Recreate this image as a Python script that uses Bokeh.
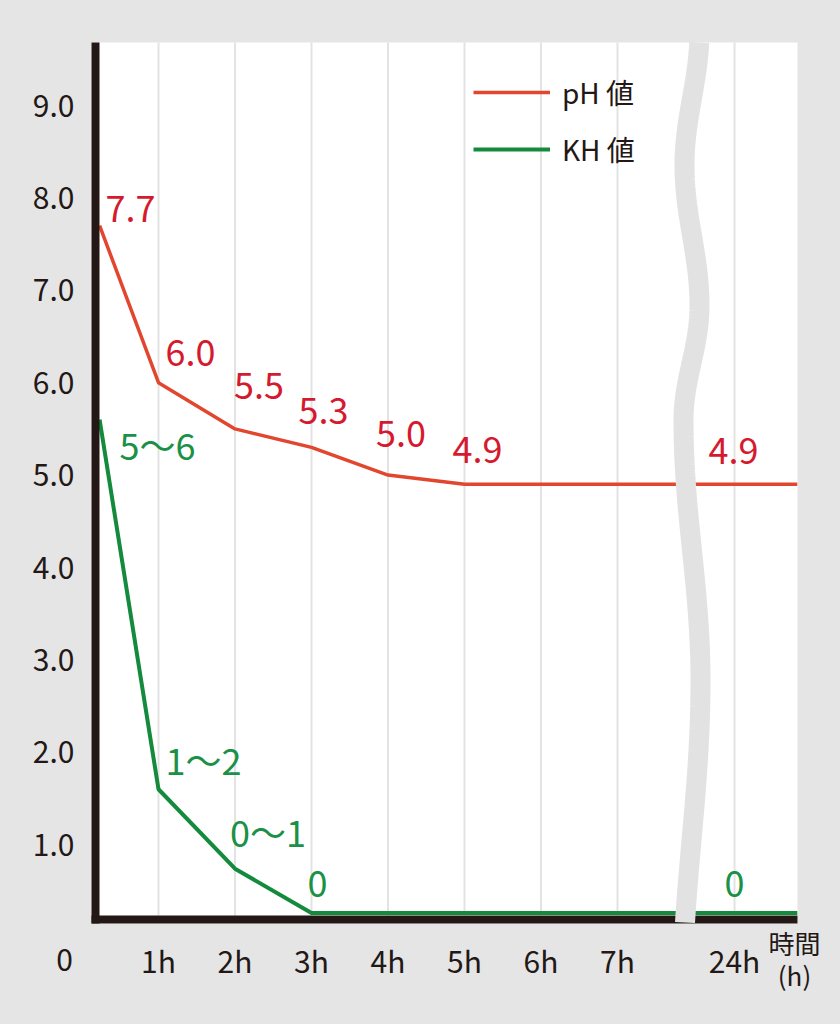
import numpy as np
from bokeh.plotting import figure
from bokeh.models import (Range1d, Legend, LegendItem, ColumnDataSource, GlobalInlineStyleSheet)
from bokeh.core.properties import value
from bokeh.embed import file_html
from bokeh.resources import INLINE

# ---------------- data ----------------
time_tick_labels = ["1h", "2h", "3h", "4h", "5h", "6h", "7h", "24h"]
time_ticks = [1, 2, 3, 4, 5, 6, 7, 8.53]            # 24h sits after the axis break
x_points = [0.23, 1, 2, 3, 4, 5, 6, 7, 8.53, 9.35]   # first point on the y-axis, last at the right edge
ph_values = [7.7, 6.0, 5.5, 5.3, 5.0, 4.9, 4.9, 4.9, 4.9, 4.9]
ph_labels = ["7.7", "6.0", "5.5", "5.3", "5.0", "4.9", "", "", "4.9", ""]
kh_values = [5.6, 1.6, 0.74, 0.26, 0.26, 0.26, 0.26, 0.26, 0.26, 0.26]
kh_labels = ["5〜6", "1〜2", "0〜1", "0", "", "", "", "", "0", ""]
y_ticks = [1, 2, 3, 4, 5, 6, 7, 8, 9]
y_tick_labels = ["1.0", "2.0", "3.0", "4.0", "5.0", "6.0", "7.0", "8.0", "9.0"]

# ---------------- styles ----------------
FONT = "Noto Sans CJK JP"
BG = "#e5e5e5"
INK = "#231815"
PH_LINE, PH_TEXT = "#e2462e", "#d51a2f"
KH_LINE, KH_TEXT = "#138a3c", "#1a9146"
ph_dx = [31, 32, 24, 12, 13, 13, 0, 0, -1, 0]
ph_dy = [-17, -30, -43, -36, -41, -34, 0, 0, -33, 0]
kh_dx = [58, 45, 33, 6, 0, 0, 0, 0, 0, 0]
kh_dy = [24, -30, -38, -29, 0, 0, 0, 0, -29, 0]

# pixel <-> data mapping of the artwork (page pixels)
W, H = 840, 1024
PX_H, PX_V = 76.5, 92.4
def tx(px):
    return 1 + (px - 158) / PX_H
def vy(py):
    return 9 - (py - 105) / PX_V

# plot-area box (white) and axis bars
AX_L, AX_R, AX_T, AX_B = 91, 797, 42, 923

p = figure(width=W, height=H, x_range=Range1d(tx(0), tx(W)), y_range=Range1d(vy(H), vy(0)),
           output_backend="svg", toolbar_location=None, min_border=0,
           x_axis_location=None, y_axis_location=None)
p.stylesheets = [GlobalInlineStyleSheet(css="html,body{background:%s;margin:0;}" % BG)]
p.outline_line_color = None
p.border_fill_color = BG
p.background_fill_color = BG
p.xgrid.visible = False
p.ygrid.visible = False

x0, x1, y0, y1 = tx(AX_L), tx(AX_R), vy(AX_B), vy(AX_T)
p.quad(left=x0, right=x1, bottom=y0, top=y1, fill_color="white", line_color=None)

# vertical grid lines at the time ticks
p.segment(x0=time_ticks, x1=time_ticks, y0=[vy(915)] * len(time_ticks), y1=[y1] * len(time_ticks),
          line_color="#e3e3e3", line_width=2)

src = ColumnDataSource(dict(x=x_points, ph=ph_values, kh=kh_values,
                            phl=ph_labels, khl=kh_labels,
                            pdx=ph_dx, pdy=ph_dy, kdx=kh_dx, kdy=kh_dy))

r_ph = p.line("x", "ph", source=src, line_color=PH_LINE, line_width=3.5)
r_kh = p.line("x", "kh", source=src, line_color=KH_LINE, line_width=4)

# black axis bars
p.line([tx(95), tx(95)], [y0, y1], line_color=INK, line_width=8)
p.line([x0, x1], [vy(919), vy(919)], line_color=INK, line_width=8)

# wavy axis break: half-cosine between turning points
turn_py = [30, 165, 305, 420, 680, 1000]
turn_px = [699, 684, 699, 683, 700, 682]
yy = np.arange(AX_T, AX_B + 1, 2.0)
xx = np.empty_like(yy)
for i, yv in enumerate(yy):
    j = np.searchsorted(turn_py, yv) - 1
    j = min(max(j, 0), len(turn_py) - 2)
    f = (yv - turn_py[j]) / (turn_py[j + 1] - turn_py[j])
    xx[i] = turn_px[j] + (turn_px[j + 1] - turn_px[j]) * (1 - np.cos(np.pi * f)) / 2
p.line([tx(v) for v in xx], [vy(v) for v in yy], line_color="#e2e2e2", line_width=20)

# value labels
p.text("x", "ph", text="phl", source=src, x_offset="pdx", y_offset="pdy",
       text_color=PH_TEXT, text_font=value(FONT), text_font_size="36px",
       text_align="center", text_baseline="middle")
p.text("x", "kh", text="khl", source=src, x_offset="kdx", y_offset="kdy",
       text_color=KH_TEXT, text_font=value(FONT), text_font_size="36px",
       text_align="center", text_baseline="middle")

# tick labels
p.text(x=time_ticks, y=[vy(959)] * len(time_ticks), text=time_tick_labels,
       text_color=INK, text_font=value(FONT), text_font_size="30px",
       text_align="center", text_baseline="middle")
p.text(x=[tx(74)] * len(y_ticks), y=y_ticks, text=y_tick_labels,
       text_color=INK, text_font=value(FONT), text_font_size="30px",
       text_align="right", text_baseline="middle")
p.text(x=[tx(64)], y=[vy(959)], text=["0"], text_color=INK, text_font=value(FONT),
       text_font_size="30px", text_align="center", text_baseline="middle")
p.text(x=[tx(794), tx(794)], y=[vy(942), vy(974)], text=["時間", "(h)"], text_color=INK,
       text_font=value(FONT), text_font_size="26px", text_align="center", text_baseline="middle")

# legend
legend = Legend(items=[LegendItem(label="pH 値", renderers=[r_ph]),
                       LegendItem(label="KH 値", renderers=[r_kh])],
                location=(473, H - 169), orientation="vertical",
                border_line_color=None, background_fill_alpha=0,
                padding=0, margin=0, spacing=17, glyph_width=77, glyph_height=30,
                label_height=30, label_standoff=12,
                label_text_font=FONT, label_text_font_size="28px", label_text_color=INK)
p.add_layout(legend, "center")

open("out.html", "w").write(file_html(p, INLINE))
